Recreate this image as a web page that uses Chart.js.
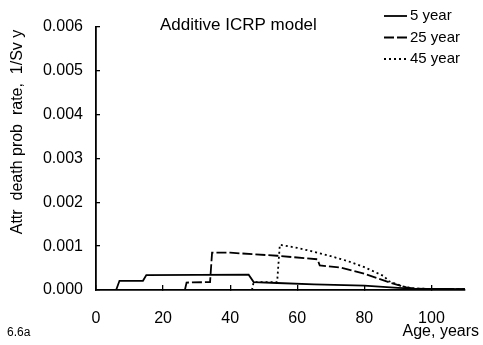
<!DOCTYPE html>
<html>
<head>
<meta charset="utf-8">
<style>
	html, body { margin: 0; padding: 0; background: #fff; }
</style>
<script src="https://cdn.jsdelivr.net/npm/chart.js@4/dist/chart.umd.min.js"></script>
</head>
<body>
<canvas id="attr-chart" width="483" height="345"></canvas>
<script>
// age at which the attributable rate is read, per exposure age
const ages5 = [6, 7, 14, 15, 45.5, 47, 54, 65, 80, 90, 95, 110];
const rate5 = [0, 0.00021, 0.00021, 0.00034, 0.00035, 0.00018, 0.00016, 0.00013, 0.0001, 0.00005, 0.00003, 0.00002];

const ages25 = [26.5, 27, 34, 34.6, 40, 54, 66, 66.7, 73, 80, 88, 92.5, 95, 110];
const rate25 = [0, 0.00017, 0.00018, 0.00085, 0.00085, 0.00078, 0.0007, 0.00056, 0.00051, 0.00037, 0.00016, 0.00006, 0.00003, 0.00002];

const ages45 = [46.5, 47, 54, 54.8, 60, 65, 70, 75, 80, 86, 87, 91.5, 95, 110];
const rate45 = [0, 0.00018, 0.00018, 0.00103, 0.00096, 0.00087, 0.00077, 0.00066, 0.00052, 0.00031, 0.00021, 0.00008, 0.00003, 0.00002];

const seriesLabels = ['5 year', '25 year', '45 year'];
const xTicks = [0, 20, 40, 60, 80, 100];
const yTicks = [0, 0.001, 0.002, 0.003, 0.004, 0.005, 0.006];

const FONT = '"Liberation Sans", Arial, sans-serif';
const dashes = [[], [10, 3], [2, 3]];

const toPoints = (xs, ys) => xs.map((x, i) => ({x, y: ys[i]}));

const datasets = [
	toPoints(ages5, rate5),
	toPoints(ages25, rate25),
	toPoints(ages45, rate45)
].map((data, i) => ({
	label: seriesLabels[i],
	data,
	borderColor: '#000',
	borderWidth: 1.8,
	borderDash: dashes[i],
	pointRadius: 0,
	tension: 0,
	fill: false
}));

// titles, legend and figure tag drawn on top of the chart
const extras = {
	id: 'extras',
	afterDraw(chart) {
		const ctx = chart.ctx;
		ctx.save();
		ctx.fillStyle = '#000';
		ctx.strokeStyle = '#000';

		ctx.font = `17px ${FONT}`;
		ctx.textAlign = 'left';
		ctx.textBaseline = 'middle';
		ctx.fillText('Additive ICRP model', 160, 25);

		ctx.font = `15px ${FONT}`;
		chart.data.datasets.forEach((ds, i) => {
			const y = 16 + i * 21.5;
			ctx.lineWidth = 1.8;
			ctx.setLineDash(ds.borderDash);
			ctx.beginPath();
			ctx.moveTo(384, y);
			ctx.lineTo(407, y);
			ctx.stroke();
			ctx.setLineDash([]);
			ctx.fillText(ds.label, 410, y);
		});

		ctx.font = `16px ${FONT}`;
		ctx.textAlign = 'right';
		ctx.fillText('Age, years', 479, 332);

		ctx.font = `12px ${FONT}`;
		ctx.textAlign = 'left';
		ctx.fillText('6.6a', 7, 333);

		ctx.translate(18, 132);
		ctx.rotate(-Math.PI / 2);
		ctx.font = `16px ${FONT}`;
		ctx.textAlign = 'center';
		ctx.fillText('Attr  death prob  rate,  1/Sv y', 0, 0);
		ctx.restore();
	}
};

new Chart(document.getElementById('attr-chart'), {
	type: 'line',
	data: {datasets},
	options: {
		responsive: false,
		animation: false,
		layout: {padding: {top: 20, right: 18, left: 0, bottom: 0}},
		plugins: {
			legend: {display: false},
			tooltip: {enabled: false}
		},
		scales: {
			x: {
				type: 'linear',
				min: 0,
				max: 110,
				afterBuildTicks: scale => { scale.ticks = xTicks.map(value => ({value})); },
				afterFit: scale => { scale.height = 55; },
				border: {color: '#000', width: 1.8},
				grid: {drawOnChartArea: false, tickLength: -5, color: '#000', lineWidth: 1.3},
				ticks: {
					padding: 24,
					color: '#000',
					maxRotation: 0,
					font: {family: FONT, size: 16}
				}
			},
			y: {
				min: 0,
				max: 0.006,
				afterBuildTicks: scale => { scale.ticks = yTicks.map(value => ({value})); },
				afterFit: scale => { scale.width = 96; },
				border: {color: '#000', width: 1.8},
				grid: {drawOnChartArea: false, tickLength: -4, color: '#000', lineWidth: 1.3},
				ticks: {
					padding: 17,
					color: '#000',
					callback: v => v.toFixed(3),
					font: {family: FONT, size: 16}
				}
			}
		}
	},
	plugins: [extras]
});
</script>
</body>
</html>
